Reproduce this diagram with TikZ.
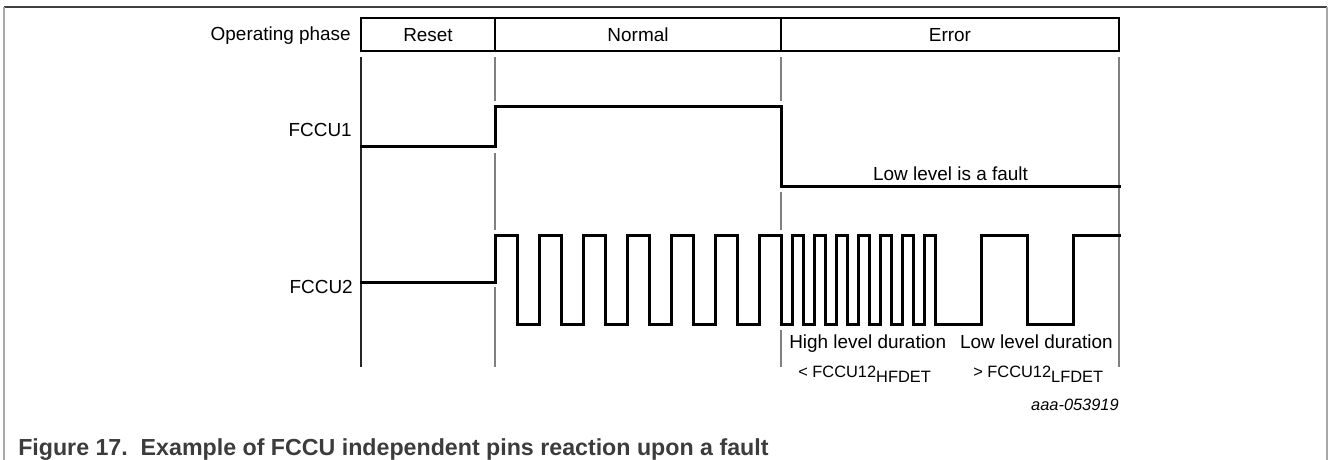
\documentclass[tikz,border=0pt]{standalone}
\usepackage{fontspec}
\setmainfont{Liberation Sans}
\definecolor{framegrey}{HTML}{A8A8A8}
\definecolor{topgrey}{HTML}{404040}
\definecolor{gridgrey}{HTML}{808080}
\definecolor{capgrey}{HTML}{3C3C3C}
\begin{document}
\begin{tikzpicture}[x=0.75pt,y=-0.75pt,
  sig/.style={line width=2.25pt,black,line join=miter,line cap=rect},
  gridln/.style={line width=0.8pt,gridgrey},
  phasebox/.style={line width=2.1pt,black},
  lbl/.style={inner sep=0pt,font=\fontsize{14.2}{16}\selectfont},
  sml/.style={inner sep=0pt,font=\fontsize{12.3}{14}\selectfont}]
\useasboundingbox (0,0) rectangle (1328,460);
% frame
\draw[line width=1.2pt,topgrey] (4,7) -- (1327,7);
\draw[line width=1.1pt,framegrey] (4,7) -- (4,460);
\draw[line width=1.5pt,framegrey] (1326.5,7) -- (1326.5,460);
% gridlines
\draw[line width=0.8pt,black!85] (361,57) -- (361,367);
\draw[gridln] (495,57) -- (495,101) (495,153) -- (495,230) (495,287) -- (495,367);
\draw[gridln] (781,57) -- (781,101) (781,192) -- (781,230) (781,330) -- (781,367);
\draw[gridln] (1119,57) -- (1119,367);
% phase boxes
\draw[phasebox] (361,18) rectangle (1119,51);
\draw[phasebox] (495,18) -- (495,51) (781,18) -- (781,51);
\node[lbl,anchor=base] (reset) at (428,42) {Reset};
\node[lbl,anchor=base] (normal) at (638,42) {Normal};
\node[lbl,anchor=base] (error) at (950,42) {Error};
\node[lbl,anchor=base east] (op) at (351,40.5) {Operating phase};
% signal labels
\node[lbl,anchor=base east] (f1) at (352,137) {FCCU1};
\node[lbl,anchor=base east] (f2) at (353,293) {FCCU2};
% FCCU1
\draw[sig] (361,146) -- (495,146) -- (495,107) -- (781,107) -- (781,186) -- (1119,186);
% FCCU2
\draw[sig] (361,282) -- (495,282) -- (495,235)
  foreach \i in {1,...,6} { -- ++(22,0) -- ++(0,89) -- ++(22,0) -- ++(0,-89) }
  -- ++(22,0) -- ++(0,89)
  foreach \i in {1,...,7} { -- ++(11,0) -- ++(0,-89) -- ++(11,0) -- ++(0,89) }
  -- ++(46,0) -- ++(0,-89) -- ++(46,0) -- ++(0,89) -- ++(46,0) -- ++(0,-89) -- (1119,235);
% annotations
\node[lbl,anchor=base] (fault) at (950.5,180) {Low level is a fault};
\node[lbl,anchor=base west] (hld) at (789,348) {High level duration};
\node[lbl,anchor=base east] (lld) at (1113,348) {Low level duration};
\node[sml,anchor=base west] (hf) at (798,377) {< FCCU12\raisebox{-4pt}{HFDET}};
\node[sml,anchor=base west] (lf) at (973,377) {> FCCU12\raisebox{-4pt}{LFDET}};
\node[sml,anchor=base east] (id) at (1119,410) {\itshape aaa-053919};
% caption
\node[inner sep=0pt,anchor=base west,text=capgrey,font=\fontsize{17.4}{20}\selectfont\bfseries] (cap) at (18,455) {Figure 17.\ \ Example of FCCU independent pins reaction upon a fault};
\end{tikzpicture}
\end{document}
